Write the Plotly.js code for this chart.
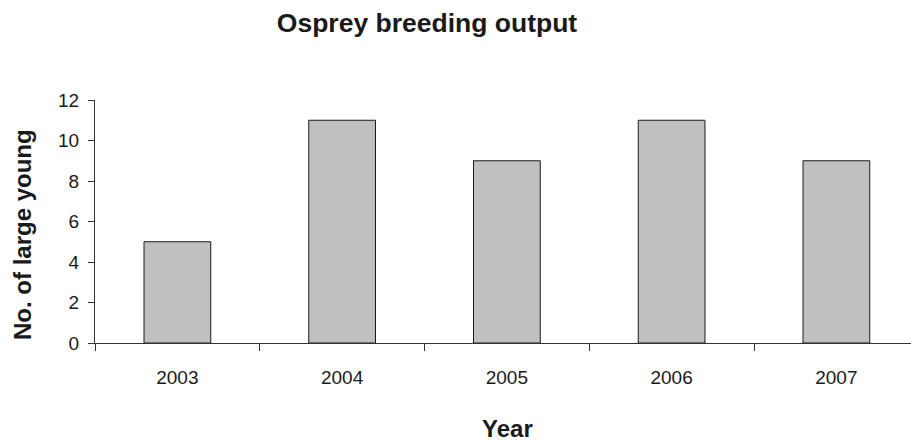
<!DOCTYPE html>
<html>
<head>
<meta charset="utf-8">
<script src="https://cdn.plot.ly/plotly-3.0.1.min.js"></script>
<style>html,body{margin:0;padding:0;background:#fff;}#chart{width:911px;height:441px;}</style>
</head>
<body>
<div id="chart"></div>
<script>
const years = ["2003", "2004", "2005", "2006", "2007"];
const largeYoung = [5, 11, 9, 11, 9];
const yTicks = [0, 2, 4, 6, 8, 10, 12];

const W = 911, H = 441, L = 95, R = 0, T = 100, B = 98;
const plotW = W - L - R;
const catW = 164.75;

const trace = {
  type: "bar",
  x: years,
  y: largeYoung,
  width: 0.405,
  marker: {color: "#c0c0c0", line: {color: "#1a1a1a", width: 1}},
  hoverinfo: "x+y"
};

const layout = {
  width: W, height: H,
  margin: {l: L, r: R, t: T, b: B, pad: 0},
  paper_bgcolor: "#ffffff",
  plot_bgcolor: "#ffffff",
  showlegend: false,
  font: {family: "Liberation Sans, Arial, sans-serif", color: "#1a1a1a"},
  title: {
    text: "<b>Osprey breeding output</b>",
    font: {size: 26.5, color: "#1a1a1a"},
    xref: "container", x: 427 / W, xanchor: "center",
    yref: "container", y: 1 - 23 / H, yanchor: "middle"
  },
  xaxis: {
    type: "category",
    range: [-0.5, -0.5 + plotW / catW],
    tickson: "boundaries",
    ticks: "outside", ticklen: 7, tickwidth: 1, tickcolor: "#333",
    ticklabelstandoff: 17,
    showline: true, linecolor: "#333", linewidth: 1,
    showgrid: false, zeroline: false,
    tickfont: {size: 19, color: "#1a1a1a"},
    fixedrange: true
  },
  yaxis: {
    range: [0, 12],
    tickvals: yTicks,
    ticktext: yTicks.map(String),
    ticks: "outside", ticklen: 6, tickwidth: 1, tickcolor: "#333",
    ticklabelstandoff: 5,
    showline: true, linecolor: "#333", linewidth: 1,
    showgrid: false, zeroline: false,
    tickfont: {size: 19, color: "#1a1a1a"},
    fixedrange: true
  },
  annotations: [
    {
      text: "<b>Year</b>", showarrow: false,
      xref: "paper", yref: "paper",
      x: (507 - L) / plotW, y: -(428 - (H - B)) / (H - T - B),
      xanchor: "center", yanchor: "middle",
      font: {size: 24, color: "#1a1a1a"}
    },
    {
      text: "<b>No. of large young</b>", showarrow: false, textangle: -90,
      xref: "paper", yref: "paper",
      x: (22 - L) / plotW, y: ((H - B) - 235) / (H - T - B),
      xanchor: "center", yanchor: "middle",
      font: {size: 24, color: "#1a1a1a"}
    }
  ]
};

Plotly.newPlot("chart", [trace], layout, {displayModeBar: false, staticPlot: true});
</script>
</body>
</html>
